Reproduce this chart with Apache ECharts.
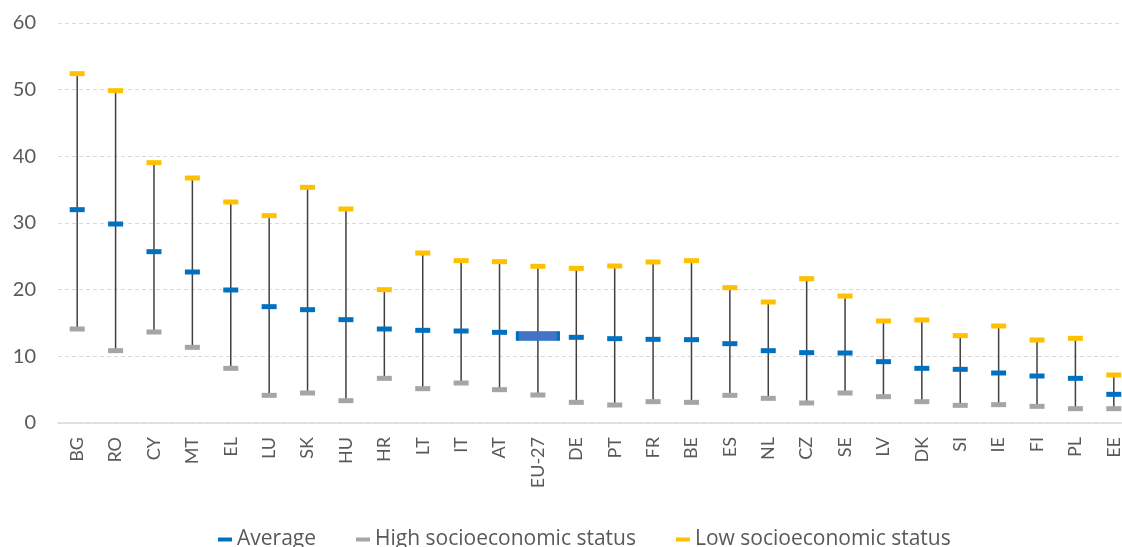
<!DOCTYPE html>
<html>
<head>
<meta charset="utf-8">
<script src="https://cdn.jsdelivr.net/npm/echarts@6/dist/echarts.min.js"></script>
<style>
html,body{margin:0;padding:0;background:#fff;overflow:hidden;}
#chart{width:1140px;height:547px;}
</style>
</head>
<body>
<div id="chart"></div>
<script>
const categories = ['BG','RO','CY','MT','EL','LU','SK','HU','HR','LT','IT','AT','EU-27','DE','PT','FR','BE','ES','NL','CZ','SE','LV','DK','SI','IE','FI','PL','EE'];
const average = [32.0,29.85,25.7,22.65,19.95,17.45,17.0,15.5,14.1,13.9,13.8,13.6,13.05,12.85,12.65,12.55,12.5,11.9,10.85,10.55,10.5,9.2,8.2,8.05,7.5,7.05,6.7,4.3];
const highSES = [14.1,10.85,13.65,11.35,8.2,4.15,4.5,3.35,6.7,5.15,6.0,5.0,4.2,3.1,2.7,3.2,3.1,4.15,3.7,3.0,4.5,3.95,3.2,2.65,2.75,2.5,2.15,2.15];
const lowSES = [52.4,49.85,39.05,36.75,33.15,31.1,35.35,32.1,20.0,25.5,24.35,24.2,23.5,23.2,23.55,24.15,24.35,20.3,18.15,21.65,19.05,15.3,15.45,13.1,14.55,12.45,12.7,7.2];
const yTicks = [0,10,20,30,40,50,60];

const FONT = 'Lato';
const chart = echarts.init(document.getElementById('chart'), null, {renderer:'canvas'});

const avgData = average.map((v,i) => {
  if (categories[i] === 'EU-27') {
    return {value:[i,v], symbolSize:[41,9], itemStyle:{color:'#4472C4', borderColor:'#0070C0', borderWidth:1.5}};
  }
  return [i,v];
});

chart.setOption({
  animation:false,
  grid:{left:58, top:23, height:400, width:1075},
  legend:{
    top:524, left:213,
    itemWidth:14, itemHeight:4, itemGap:40,
    icon:'rect',
    textStyle:{fontFamily:'Open Sans', fontSize:21, color:'#595959'},
    data:['Average','High socioeconomic status','Low socioeconomic status']
  },
  xAxis:{
    type:'category', data:categories,
    axisTick:{show:false},
    axisLine:{lineStyle:{color:'#D9D9D9', width:1.5}},
    axisLabel:{rotate:90, interval:0, margin:14, color:'#595959', fontFamily:FONT, fontSize:18}
  },
  yAxis:{
    type:'value', min:yTicks[0], max:yTicks[yTicks.length-1], interval:10,
    axisLine:{show:false}, axisTick:{show:false},
    axisLabel:{margin:22, color:'#595959', fontFamily:FONT, fontSize:20},
    splitLine:{lineStyle:{color:'#D9D9D9', type:[4,3], width:1.2}}
  },
  series:[
    {
      type:'custom', name:'range', silent:true,
      data: categories.map((c,i) => [i, highSES[i], lowSES[i]]),
      renderItem:function(params, api){
        const p1 = api.coord([api.value(0), api.value(1)]);
        const p2 = api.coord([api.value(0), api.value(2)]);
        return {type:'line', shape:{x1:p1[0], y1:p1[1], x2:p2[0], y2:p2[1]},
          style:{stroke:'#404040', lineWidth:1.5}};
      },
      z:1
    },
    {
      type:'scatter', name:'High socioeconomic status',
      data: highSES.map((v,i)=>[i,v]),
      symbol:'rect', symbolSize:[15,5],
      itemStyle:{color:'#A5A5A5', opacity:1}, z:3
    },
    {
      type:'scatter', name:'Low socioeconomic status',
      data: lowSES.map((v,i)=>[i,v]),
      symbol:'rect', symbolSize:[15,5],
      itemStyle:{color:'#FFC000', opacity:1}, z:3
    },
    {
      type:'scatter', name:'Average',
      data: avgData,
      symbol:'rect', symbolSize:[15,5],
      itemStyle:{color:'#0070C0', opacity:1}, z:4
    }
  ]
});
</script>
</body>
</html>
